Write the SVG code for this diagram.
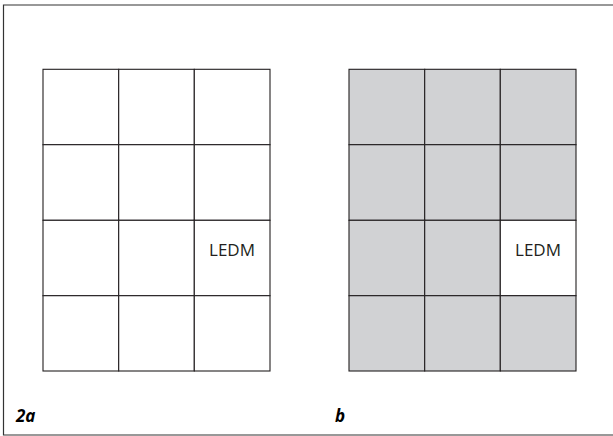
<svg xmlns="http://www.w3.org/2000/svg" width="613" height="436" viewBox="0 0 613 436">
  <style>
    .cell { fill: #ffffff; stroke: #231f20; stroke-width: 1.1; }
    .gray { fill: #d1d2d4; }
    .lbl { font-family: "Open Sans", "Noto Sans", sans-serif; font-size: 17px; fill: #231f20; text-anchor: middle; }
    .fig { font-family: "Open Sans", "Noto Sans", sans-serif; font-size: 17px; font-weight: bold; font-style: italic; fill: #000; }
    .frame { fill: none; stroke: #333; stroke-width: 1.2; }
  </style>
  <rect width="613" height="436" fill="#ffffff"/>
  <path class="frame" d="M614,5 H3.5 V435 H614"/>

  <g id="panel-a">
    <g id="a-r1c1"><rect class="cell" x="43" y="69.3" width="75.7" height="75.4"/></g>
    <g id="a-r1c2"><rect class="cell" x="118.7" y="69.3" width="75.6" height="75.4"/></g>
    <g id="a-r1c3"><rect class="cell" x="194.3" y="69.3" width="75.7" height="75.4"/></g>
    <g id="a-r2c1"><rect class="cell" x="43" y="144.7" width="75.7" height="75.6"/></g>
    <g id="a-r2c2"><rect class="cell" x="118.7" y="144.7" width="75.6" height="75.6"/></g>
    <g id="a-r2c3"><rect class="cell" x="194.3" y="144.7" width="75.7" height="75.6"/></g>
    <g id="a-r3c1"><rect class="cell" x="43" y="220.3" width="75.7" height="75.4"/></g>
    <g id="a-r3c2"><rect class="cell" x="118.7" y="220.3" width="75.6" height="75.4"/></g>
    <g id="a-r3c3"><rect class="cell" x="194.3" y="220.3" width="75.7" height="75.4"/><text class="lbl" x="232" y="256">LEDM</text></g>
    <g id="a-r4c1"><rect class="cell" x="43" y="295.7" width="75.7" height="75.3"/></g>
    <g id="a-r4c2"><rect class="cell" x="118.7" y="295.7" width="75.6" height="75.3"/></g>
    <g id="a-r4c3"><rect class="cell" x="194.3" y="295.7" width="75.7" height="75.3"/></g>
  </g>

  <g id="panel-b">
    <g id="b-r1c1"><rect class="cell gray" x="349" y="69.3" width="75.7" height="75.4"/></g>
    <g id="b-r1c2"><rect class="cell gray" x="424.7" y="69.3" width="75.6" height="75.4"/></g>
    <g id="b-r1c3"><rect class="cell gray" x="500.3" y="69.3" width="75.7" height="75.4"/></g>
    <g id="b-r2c1"><rect class="cell gray" x="349" y="144.7" width="75.7" height="75.6"/></g>
    <g id="b-r2c2"><rect class="cell gray" x="424.7" y="144.7" width="75.6" height="75.6"/></g>
    <g id="b-r2c3"><rect class="cell gray" x="500.3" y="144.7" width="75.7" height="75.6"/></g>
    <g id="b-r3c1"><rect class="cell gray" x="349" y="220.3" width="75.7" height="75.4"/></g>
    <g id="b-r3c2"><rect class="cell gray" x="424.7" y="220.3" width="75.6" height="75.4"/></g>
    <g id="b-r3c3"><rect class="cell" x="500.3" y="220.3" width="75.7" height="75.4"/><text class="lbl" x="538" y="256">LEDM</text></g>
    <g id="b-r4c1"><rect class="cell gray" x="349" y="295.7" width="75.7" height="75.3"/></g>
    <g id="b-r4c2"><rect class="cell gray" x="424.7" y="295.7" width="75.6" height="75.3"/></g>
    <g id="b-r4c3"><rect class="cell gray" x="500.3" y="295.7" width="75.7" height="75.3"/></g>
  </g>

  <g id="labels">
    <text class="fig" x="16" y="422">2a</text>
    <text class="fig" x="335" y="422">b</text>
  </g>
</svg>
